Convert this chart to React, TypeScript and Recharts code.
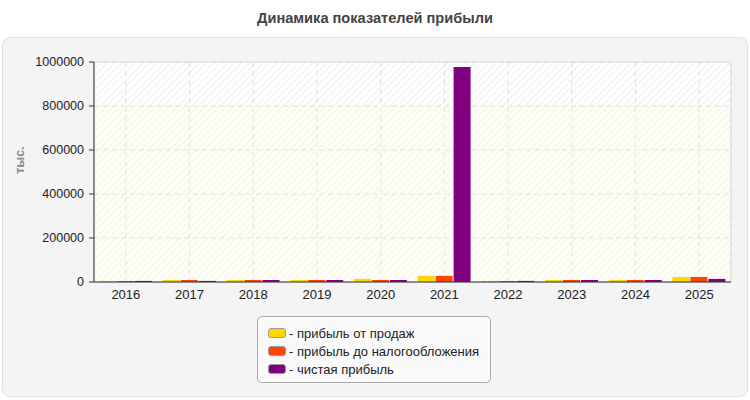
import React from 'react';
import { BarChart, Bar, XAxis, YAxis, CartesianGrid, ReferenceArea } from 'recharts';

const years = ['2016', '2017', '2018', '2019', '2020', '2021', '2022', '2023', '2024', '2025'];
const salesProfit = [5000, 9000, 9000, 9000, 14000, 28000, 5000, 9000, 9000, 23000];
const preTaxProfit = [5000, 9000, 9000, 9000, 9000, 28000, 5000, 9000, 9000, 23000];
const netProfit = [5000, 5000, 9000, 9000, 9000, 977000, 5000, 9000, 9000, 14000];
const yTicks = [0, 200000, 400000, 600000, 800000, 1000000];

const seriesNames = ['прибыль от продаж', 'прибыль до налогообложения', 'чистая прибыль'];
const seriesColors = ['#FFD700', '#FF4500', '#800080'];

const data = years.map((y, i) => ({
  year: y,
  s: salesProfit[i],
  p: preTaxProfit[i],
  n: netProfit[i],
}));

const FONT = '"Liberation Sans", Arial, sans-serif';

export default function App() {
  return (
    <div style={{ position: 'absolute', left: 0, top: 0, width: 750, height: 400, fontFamily: FONT }}>
      <svg width={0} height={0} style={{ position: 'absolute' }}>
        <defs>
          <pattern id="hatch" patternUnits="userSpaceOnUse" width={5} height={5} patternTransform="rotate(45)">
            <rect x={0} y={0} width={5} height={5} fill="#ffffff" />
            <line x1={0} y1={0} x2={0} y2={5} stroke="#efefef" strokeWidth={2} />
          </pattern>
        </defs>
      </svg>
      <div
        style={{
          position: 'absolute',
          left: 0,
          top: 10,
          width: 750,
          textAlign: 'center',
          fontSize: 14.6,
          fontWeight: 'bold',
          color: '#444',
        }}
      >
        Динамика показателей прибыли
      </div>
      <div
        style={{
          position: 'absolute',
          left: 2,
          top: 37,
          width: 744,
          height: 358,
          background: '#f4f4f4',
          border: '1px solid #e0e0e0',
          borderRadius: 8,
        }}
      />
      <div style={{ position: 'absolute', left: 0, top: 0 }}>
        <BarChart
          width={750}
          height={400}
          data={data}
          margin={{ top: 62, right: 19, bottom: 88, left: 0 }}
          barCategoryGap="8%"
          barGap={1}
        >
          <CartesianGrid stroke="#dddddd" strokeDasharray="5 4" fill="url(#hatch)" fillOpacity={1} />
          <ReferenceArea y1={0} y2={800000} fill="#fbfbe6" fillOpacity={0.3} stroke="none" ifOverflow="visible" />
          <ReferenceArea y1={0} y2={1000000} fill="none" stroke="#dddddd" strokeWidth={1} ifOverflow="visible" />
          <XAxis
            dataKey="year"
            tickLine={false}
            axisLine={{ stroke: '#333333' }}
            tick={{ fontSize: 13, fill: '#222222', fontFamily: FONT }}
            height={30}
            tickMargin={2}
          />
          <YAxis
            width={94}
            domain={[0, 1000000]}
            ticks={yTicks}
            interval={0}
            axisLine={{ stroke: '#333333' }}
            tickLine={{ stroke: '#333333' }}
            tickSize={5}
            tickMargin={5}
            tick={{ fontSize: 12.5, fill: '#222222', fontFamily: FONT }}
            label={{
              content: () => (
                <text
                  x={20}
                  y={160}
                  transform="rotate(-90 20 160)"
                  textAnchor="middle"
                  dominantBaseline="central"
                  fontSize={12.5}
                  fontWeight="bold"
                  fill="#888888"
                  fontFamily={FONT}
                >
                  тыс.
                </text>
              ),
            }}
          />
          <Bar dataKey="s" name={seriesNames[0]} fill={seriesColors[0]} isAnimationActive={false} />
          <Bar dataKey="p" name={seriesNames[1]} fill={seriesColors[1]} isAnimationActive={false} />
          <Bar dataKey="n" name={seriesNames[2]} fill={seriesColors[2]} isAnimationActive={false} />
        </BarChart>
      </div>
      <div
        style={{
          position: 'absolute',
          left: 257,
          top: 316,
          width: 232,
          height: 65,
          background: '#fafafa',
          border: '1px solid #aaaaaa',
          borderRadius: 5,
        }}
      >
        {seriesNames.map((name, i) => (
          <div
            key={name}
            style={{
              position: 'absolute',
              left: 10,
              top: 8 + i * 18,
              height: 16,
              display: 'flex',
              alignItems: 'center',
              fontSize: 13,
              color: '#222',
              whiteSpace: 'nowrap',
            }}
          >
            <span
              style={{
                display: 'inline-block',
                width: 16,
                height: 8,
                background: seriesColors[i],
                border: '1px solid #999',
                borderRadius: 3,
                marginRight: 3,
              }}
            />
            - {name}
          </div>
        ))}
      </div>
    </div>
  );
}
